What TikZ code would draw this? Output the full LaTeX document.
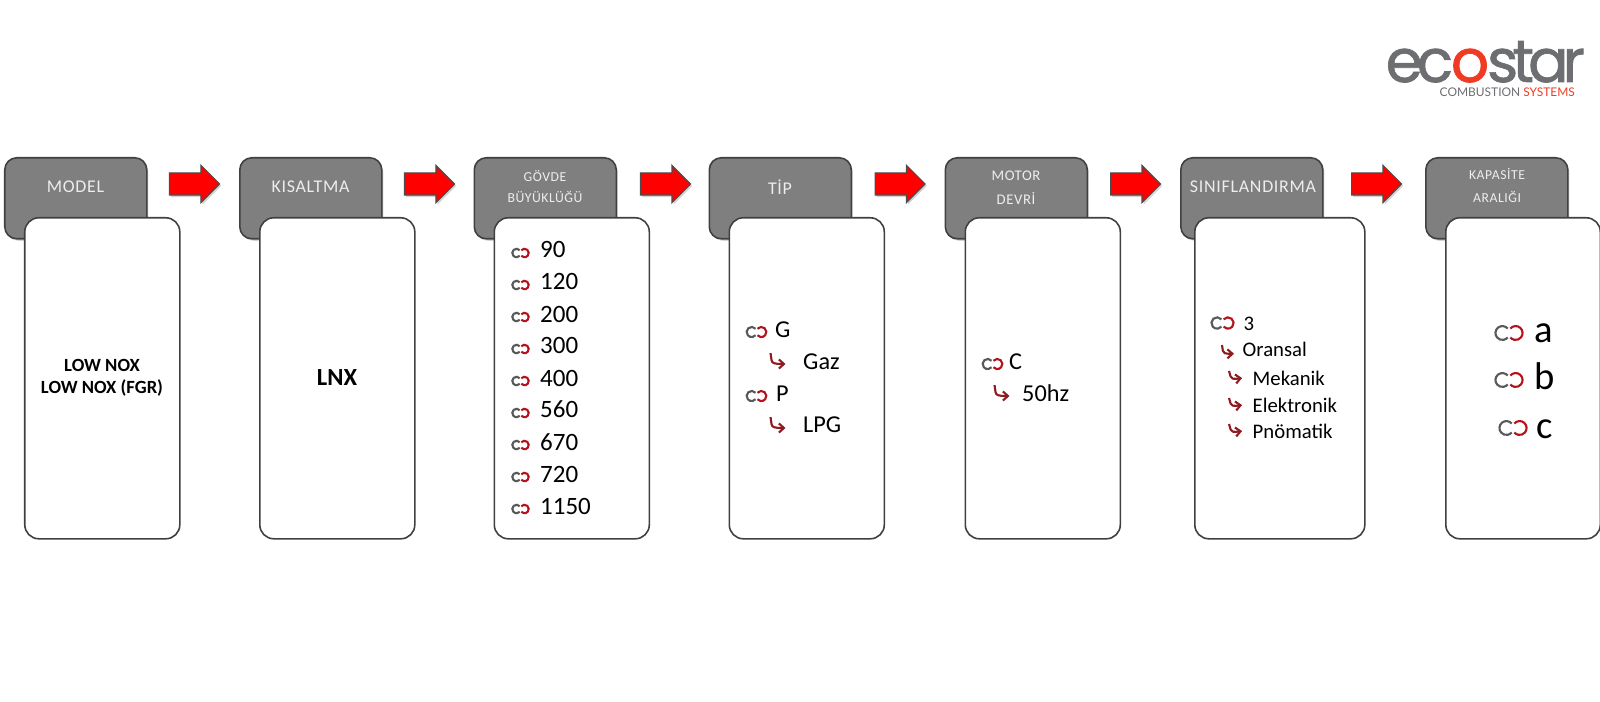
\documentclass[tikz,border=0pt]{standalone}
\usepackage{fontspec}
\setmainfont{Carlito}
\newfontfamily\headfont[LetterSpace=4]{Carlito}
\newfontfamily\logofont[LetterSpace=-10,FakeBold=1.2]{Poppins}
\newfontfamily\logosub{Lato}
\usetikzlibrary{arrows.meta,shapes.arrows,shadows}

\definecolor{headgray}{HTML}{7F7F7F}
\definecolor{edgegray}{HTML}{404040}
\definecolor{labelgray}{HTML}{EDEDED}
\definecolor{markgray}{HTML}{58595B}
\definecolor{markred}{HTML}{B5121B}
\definecolor{hookred}{HTML}{8E1B20}
\definecolor{logogray}{HTML}{6D6E71}
\definecolor{logored}{HTML}{EF3B24}

\tikzset{
  every pic/.style={line width=0.6pt},
  headbox/.style={draw=edgegray,fill=headgray,rounded corners=0.12cm,line width=0.45pt,
    minimum width=1.42cm,minimum height=0.81cm,anchor=north west,inner sep=0pt,
    drop shadow={shadow xshift=0.015cm,shadow yshift=-0.02cm,opacity=0.35}},
  bodybox/.style={draw=edgegray,fill=white,rounded corners=0.14cm,line width=0.45pt,
    minimum width=1.55cm,minimum height=3.21cm,anchor=north west,inner sep=0pt},
  headtext/.style={text=labelgray,inner sep=0pt,font=\headfont\fontsize{5.1}{6}\selectfont},
  headsmall/.style={text=labelgray,inner sep=0pt,font=\headfont\fontsize{3.9}{5}\selectfont},
  redarrow/.style={single arrow,draw=black!70,fill=red,line width=0.3pt,inner xsep=0pt,inner ysep=0.105cm,
    minimum height=0.50cm,minimum width=0.36cm,single arrow head extend=0.075cm,
    drop shadow={shadow xshift=0.015cm,shadow yshift=-0.02cm,opacity=0.35}},
  sizetext/.style={anchor=base west,inner sep=0pt,font=\fontsize{7.1}{9}\selectfont},
  tiptext/.style={anchor=base west,inner sep=0pt,font=\fontsize{6.9}{8}\selectfont},
  classtext/.style={anchor=base west,inner sep=0pt,font=\fontsize{5.9}{7}\selectfont},
  boldtext/.style={inner sep=0pt,font=\bfseries\fontsize{5.3}{6.5}\selectfont},
  captext/.style={anchor=base west,inner sep=0pt,font=\fontsize{11}{12}\selectfont},
  loopmark/.pic={
    \draw[markgray] (-0.008,0.027) arc[start angle=40,end angle=320,radius=0.042];
    \draw[markred] (0.008,0.027) arc[start angle=140,end angle=-140,radius=0.042];
  },
  hookmark/.pic={
    \draw[hookred,-{Straight Barb[length=0.05cm,width=0.09cm]}] (0,0) -- (0.01,-0.07)
      .. controls (0.015,-0.10) and (0.03,-0.11) .. (0.15,-0.11);
  }
}

\begin{document}
\begin{tikzpicture}
  \useasboundingbox (0,0) rectangle (16,-7.02);

  % Logo
  \node[anchor=base west,inner sep=0pt,text=logogray,font=\logofont\fontsize{17}{20}\selectfont]
    (logo) at (13.85,-0.82) {ec\kern-0.6pt\textcolor{logored}{o}\kern-0.6pt star};
  \node[anchor=base west,inner sep=0pt,text=logogray,font=\logosub\fontsize{3.4}{4}\selectfont]
    (logosub) at (14.39,-0.97) {COMBUSTION \textcolor{logored}{SYSTEMS}};

  % Model
  \begin{scope}[xshift=0.04cm]
    \node[headbox] (modelhead) at (0,-1.57) {};
    \node[bodybox] (modelbody) at (0.20,-2.17) {};
    \node[headtext] (modellabel) at (0.715,-1.87) {MODEL};
    \node[boldtext] (lownox) at (0.98,-3.65) {LOW NOX};
    \node[boldtext] (lownoxfgr) at (0.98,-3.88) {LOW NOX (FGR)};
    \node[redarrow] (arrowa) at (1.85,-1.84) {};
  \end{scope}

  % Kisaltma
  \begin{scope}[xshift=2.39cm]
    \node[headbox] (shorthead) at (0,-1.57) {};
    \node[bodybox] (shortbody) at (0.20,-2.17) {};
    \node[headtext] (shortlabel) at (0.715,-1.87) {KISALTMA};
    \node[boldtext,font=\bfseries\fontsize{7}{8}\selectfont] (lnx) at (0.98,-3.78) {LNX};
    \node[redarrow] (arrowb) at (1.85,-1.84) {};
  \end{scope}

  % Govde
  \begin{scope}[xshift=4.735cm]
    \node[headbox] (sizehead) at (0,-1.57) {};
    \node[bodybox] (sizebody) at (0.20,-2.17) {};
    \node[headsmall] (sizelabela) at (0.715,-1.76) {GÖVDE};
    \node[headsmall] (sizelabelb) at (0.715,-1.97) {BÜYÜKLÜĞÜ};
    \pic at (0.47,-2.53) {loopmark};
    \node[sizetext] (sizea) at (0.66,-2.58) {90};
    \pic at (0.47,-2.85) {loopmark};
    \node[sizetext] (sizeb) at (0.66,-2.90) {120};
    \pic at (0.47,-3.17) {loopmark};
    \node[sizetext] (sizec) at (0.66,-3.22) {200};
    \pic at (0.47,-3.49) {loopmark};
    \node[sizetext] (sized) at (0.66,-3.54) {300};
    \pic at (0.47,-3.81) {loopmark};
    \node[sizetext] (sizee) at (0.66,-3.86) {400};
    \pic at (0.47,-4.13) {loopmark};
    \node[sizetext] (sizef) at (0.66,-4.18) {560};
    \pic at (0.47,-4.45) {loopmark};
    \node[sizetext] (sizeg) at (0.66,-4.50) {670};
    \pic at (0.47,-4.77) {loopmark};
    \node[sizetext] (sizeh) at (0.66,-4.82) {720};
    \pic at (0.47,-5.09) {loopmark};
    \node[sizetext] (sizei) at (0.66,-5.14) {1150};
    \node[redarrow] (arrowc) at (1.865,-1.84) {};
  \end{scope}

  % Tip
  \begin{scope}[xshift=7.085cm]
    \node[headbox] (typehead) at (0,-1.57) {};
    \node[bodybox] (typebody) at (0.20,-2.17) {};
    \node[headtext] (typelabel) at (0.715,-1.87) {TİP};
    \pic[scale=1.2] at (0.48,-3.32) {loopmark};
    \node[tiptext] (typeg) at (0.66,-3.37) {G};
    \pic at (0.62,-3.53) {hookmark};
    \node[tiptext] (typegas) at (0.94,-3.69) {Gaz};
    \pic[scale=1.2] at (0.48,-3.96) {loopmark};
    \node[tiptext] (typep) at (0.67,-4.01) {P};
    \pic at (0.62,-4.17) {hookmark};
    \node[tiptext] (typelpg) at (0.94,-4.32) {LPG};
    \node[redarrow] (arrowd) at (1.86,-1.84) {};
  \end{scope}

  % Motor
  \begin{scope}[xshift=9.445cm]
    \node[headbox] (motorhead) at (0,-1.57) {};
    \node[bodybox] (motorbody) at (0.20,-2.17) {};
    \node[headsmall,font=\headfont\fontsize{4.2}{5}\selectfont] (motorlabela) at (0.715,-1.76) {MOTOR};
    \node[headsmall,font=\headfont\fontsize{4.2}{5}\selectfont] (motorlabelb) at (0.715,-1.98) {DEVRİ};
    \pic[scale=1.2] at (0.48,-3.64) {loopmark};
    \node[tiptext] (motorc) at (0.64,-3.69) {C};
    \pic at (0.50,-3.85) {hookmark};
    \node[tiptext] (motorhz) at (0.77,-4.01) {50hz};
    \node[redarrow] (arrowe) at (1.855,-1.84) {};
  \end{scope}

  % Siniflandirma
  \begin{scope}[xshift=11.80cm]
    \node[headbox] (classhead) at (0,-1.57) {};
    \node[bodybox,minimum width=1.70cm] (classbody) at (0.14,-2.17) {};
    \node[headtext] (classlabel) at (0.73,-1.87) {SINIFLANDIRMA};
    \pic[scale=1.35,line width=0.7pt] at (0.425,-3.23) {loopmark};
    \node[classtext] (classthree) at (0.63,-3.30) {3};
    \pic[scale=0.8,line width=0.4pt] at (0.42,-3.45) {hookmark};
    \node[classtext] (classprop) at (0.62,-3.57) {Oransal};
    \pic[scale=0.8,rotate=8,line width=0.6pt] at (0.49,-3.71) {hookmark};
    \node[classtext] (classmech) at (0.72,-3.855) {Mekanik};
    \pic[scale=0.8,rotate=8,line width=0.6pt] at (0.49,-3.98) {hookmark};
    \node[classtext] (classelec) at (0.72,-4.13) {Elektronik};
    \pic[scale=0.8,rotate=8,line width=0.6pt] at (0.49,-4.24) {hookmark};
    \node[classtext] (classpneu) at (0.72,-4.39) {Pnömatik};
    \node[redarrow] (arrowf) at (1.91,-1.84) {};
  \end{scope}

  % Kapasite
  \begin{scope}[xshift=14.25cm]
    \node[headbox] (caphead) at (0,-1.57) {};
    \node[bodybox,minimum width=1.545cm] (capbody) at (0.20,-2.17) {};
    \node[headsmall] (caplabela) at (0.72,-1.74) {KAPASİTE};
    \node[headsmall] (caplabelb) at (0.72,-1.97) {ARALIĞI};
    \pic[scale=1.65,line width=0.85pt] at (0.84,-3.33) {loopmark};
    \node[captext] (capa) at (1.09,-3.43) {a};
    \pic[scale=1.65,line width=0.85pt] at (0.84,-3.80) {loopmark};
    \node[captext] (capb) at (1.09,-3.90) {b};
    \pic[scale=1.65,line width=0.85pt] at (0.88,-4.28) {loopmark};
    \node[captext] (capc) at (1.11,-4.39) {c};
  \end{scope}
\end{tikzpicture}
\end{document}
